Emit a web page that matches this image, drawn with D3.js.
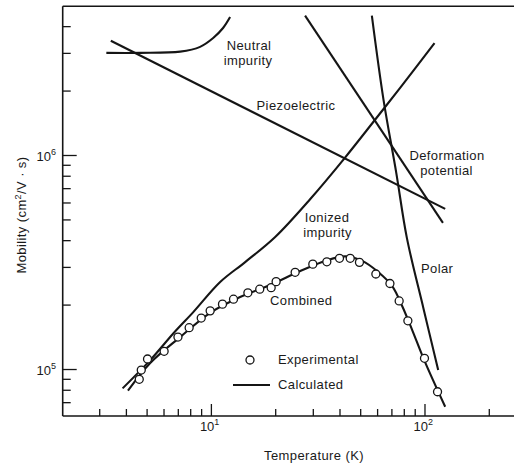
<!DOCTYPE html>
<html><head><meta charset="utf-8">
<script src="https://cdn.jsdelivr.net/npm/d3@7"></script>
<style>
html,body{margin:0;padding:0;background:#fff;}
svg text{font-family:"Liberation Sans",Arial,Helvetica,sans-serif;fill:#1a1a1a;}
</style></head>
<body>
<svg id="chart" width="514" height="466"></svg>
<script>
// ---------- data ----------
const xMajorTicks = [10, 100];
const xMinorTicks = [3,4,5,6,7,8,9,20,30,40,50,60,70,80,90,200,300];
const yMajorTicks = [1e5, 1e6];
const yMinorTicks = [7e4,8e4,9e4,2e5,3e5,4e5,5e5,6e5,7e5,8e5,9e5,2e6,3e6,4e6];
const xTickLabels = [{v:10, base:"10", sup:"1"}, {v:100, base:"10", sup:"2"}];
const yTickLabels = [{v:1e5, base:"10", sup:"5"}, {v:1e6, base:"10", sup:"6"}];

const neutralT  = [3.24, 4.67, 7.18, 8.9, 10.25, 11.4, 12.3];
const neutralMu = [3.0e6, 3.0e6, 3.04e6, 3.2e6, 3.52e6, 3.92e6, 4.41e6];

const piezoT  = [3.4, 125];
const piezoMu = [3.42e6, 5.6e5];

const deformT  = [27.6, 122];
const deformMu = [4.48e6, 4.82e5];

const polarT  = [56.7, 64.3, 73.7, 82.7, 98.9, 115.9];
const polarMu = [4.48e6, 1.81e6, 8.3e5, 4.1e5, 1.92e5, 9.89e4];

const ionizedT  = [3.86, 5.2, 6.68, 8.29, 11.05, 14.47, 20.0, 29.2, 42.2, 57.7, 76.9, 111.4];
const ionizedMu = [8.12e4, 1.10e5, 1.47e5, 1.85e5, 2.55e5, 3.16e5, 4.14e5, 6.23e5, 9.65e5, 1.43e6, 2.06e6, 3.33e6];

const combinedT  = [4.09, 5.2, 7.18, 9.92, 13.7, 18.95, 26.2, 34.3, 42.5, 51.1, 60.7, 70.6, 78.6, 87.6, 99.7, 125];
const combinedMu = [7.92e4, 1.067e5, 1.41e5, 1.83e5, 2.17e5, 2.47e5, 2.87e5, 3.2e5, 3.36e5, 3.2e5, 2.84e5, 2.44e5, 1.97e5, 1.52e5, 1.10e5, 6.66e4];

const expT  = [4.62, 4.72, 5.05, 6.04, 7.01, 7.91, 9.01, 9.92, 11.33, 12.76, 14.9, 16.93, 19.15, 20.2, 24.8, 30.0, 34.9, 40.0, 44.9, 49.6, 59.2, 68.9, 76.1, 83.6, 100, 115.1];
const expMu = [8.95e4, 9.89e4, 1.114e5, 1.21e5, 1.41e5, 1.56e5, 1.73e5, 1.87e5, 2.01e5, 2.12e5, 2.27e5, 2.36e5, 2.40e5, 2.56e5, 2.83e5, 3.09e5, 3.17e5, 3.29e5, 3.29e5, 3.15e5, 2.78e5, 2.51e5, 2.08e5, 1.68e5, 1.122e5, 7.83e4];

const xLabel = "Temperature (K)";
const yLabel = "Mobility (cm";
const yLabelRest = "/V · s)";
// ---------- layout ----------
const svg = d3.select("#chart");
const x = d3.scaleLog().domain([2, 300]).range([61.6, 526.4]);
const y = d3.scaleLog().domain([6e4, 5e6]).range([416.5, 5.4]);
const X0 = 62.7, Y0 = 416, YT = 6.2, XR = 514;
const ink = "#151515";

// frame
svg.append("line").attr("x1", X0).attr("x2", XR).attr("y1", YT).attr("y2", YT)
  .attr("stroke", ink).attr("stroke-width", 1.6);

// axes via d3
const gx = svg.append("g").attr("transform", `translate(0,${Y0})`);
gx.call(d3.axisBottom(x).tickValues(xMinorTicks).tickSize(-7).tickFormat(""));
const gx2 = svg.append("g").attr("transform", `translate(0,${Y0})`);
gx2.call(d3.axisBottom(x).tickValues(xMajorTicks).tickSize(-12).tickFormat(""));
const gy = svg.append("g").attr("transform", `translate(${X0},0)`);
gy.call(d3.axisLeft(y).tickValues(yMinorTicks).tickSize(-8).tickFormat(""));
const gy2 = svg.append("g").attr("transform", `translate(${X0},0)`);
gy2.call(d3.axisLeft(y).tickValues(yMajorTicks).tickSize(-14).tickFormat(""));
[gx, gx2, gy, gy2].forEach(g => {
  g.selectAll(".domain").remove();
  g.selectAll(".tick line").attr("stroke", ink).attr("stroke-width", 1.3);
});
// axis lines
svg.append("line").attr("x1", X0).attr("x2", XR).attr("y1", Y0).attr("y2", Y0)
  .attr("stroke", ink).attr("stroke-width", 1.6);
svg.append("line").attr("x1", X0).attr("x2", X0).attr("y1", YT).attr("y2", Y0)
  .attr("stroke", ink).attr("stroke-width", 1.6);

// tick labels
xTickLabels.forEach(d => {
  const t = svg.append("text").attr("x", x(d.v) - 11).attr("y", 431)
    .attr("font-size", 13).attr("text-anchor", "start");
  t.append("tspan").text(d.base);
  t.append("tspan").attr("dy", -6).attr("font-size", 9).text(d.sup);
});
yTickLabels.forEach(d => {
  const t = svg.append("text").attr("x", 56).attr("y", y(d.v) + 6)
    .attr("font-size", 13).attr("text-anchor", "end");
  t.append("tspan").text(d.base);
  t.append("tspan").attr("dy", -6).attr("font-size", 9).text(d.sup);
});

// axis titles
svg.append("text").attr("x", 314).attr("y", 460).attr("text-anchor", "middle")
  .attr("font-size", 13).attr("letter-spacing", 0.4).text(xLabel);
const yl = svg.append("text").attr("transform", "translate(26,215) rotate(-90)")
  .attr("text-anchor", "middle").attr("font-size", 13).attr("letter-spacing", 0.4);
yl.append("tspan").text(yLabel);
yl.append("tspan").attr("dy", -5).attr("font-size", 9).text("2");
yl.append("tspan").attr("dy", 5).text(yLabelRest);

// curves
const line = d3.line().x(d => x(d[0])).y(d => y(d[1])).curve(d3.curveCatmullRom.alpha(0.5));
const curves = [
  [neutralT, neutralMu], [piezoT, piezoMu], [deformT, deformMu],
  [polarT, polarMu], [ionizedT, ionizedMu], [combinedT, combinedMu]
];
curves.forEach(([ts, ms]) => {
  svg.append("path").datum(ts.map((t, i) => [t, ms[i]]))
    .attr("d", line).attr("fill", "none").attr("stroke", ink)
    .attr("stroke-width", 2.1).attr("stroke-linecap", "butt");
});

// experimental points
svg.append("g").selectAll("circle").data(expT.map((t, i) => [t, expMu[i]]))
  .join("circle").attr("cx", d => x(d[0])).attr("cy", d => y(d[1])).attr("r", 4)
  .attr("fill", "#fff").attr("stroke", ink).attr("stroke-width", 1.3);

// annotations
const ann = [
  {t:"Neutral", x:249, y:50, a:"middle"},
  {t:"impurity", x:248, y:64.5, a:"middle"},
  {t:"Piezoelectric", x:296, y:109.5, a:"middle"},
  {t:"Deformation", x:447, y:160, a:"middle"},
  {t:"potential", x:446.5, y:174.5, a:"middle"},
  {t:"Ionized", x:327, y:222, a:"middle"},
  {t:"impurity", x:327.5, y:237, a:"middle"},
  {t:"Polar", x:421, y:273, a:"start"},
  {t:"Combined", x:270, y:305, a:"start"},
  {t:"Experimental", x:278, y:364, a:"start"},
  {t:"Calculated", x:278, y:389, a:"start"}
];
ann.forEach(d => svg.append("text").attr("x", d.x).attr("y", d.y).attr("text-anchor", d.a)
  .attr("font-size", 13).attr("letter-spacing", 0.4).text(d.t));

// legend symbols
svg.append("circle").attr("cx", 250).attr("cy", 360).attr("r", 4)
  .attr("fill", "#fff").attr("stroke", ink).attr("stroke-width", 1.3);
svg.append("line").attr("x1", 233).attr("x2", 270).attr("y1", 385).attr("y2", 385)
  .attr("stroke", ink).attr("stroke-width", 2);
</script>
</body></html>
